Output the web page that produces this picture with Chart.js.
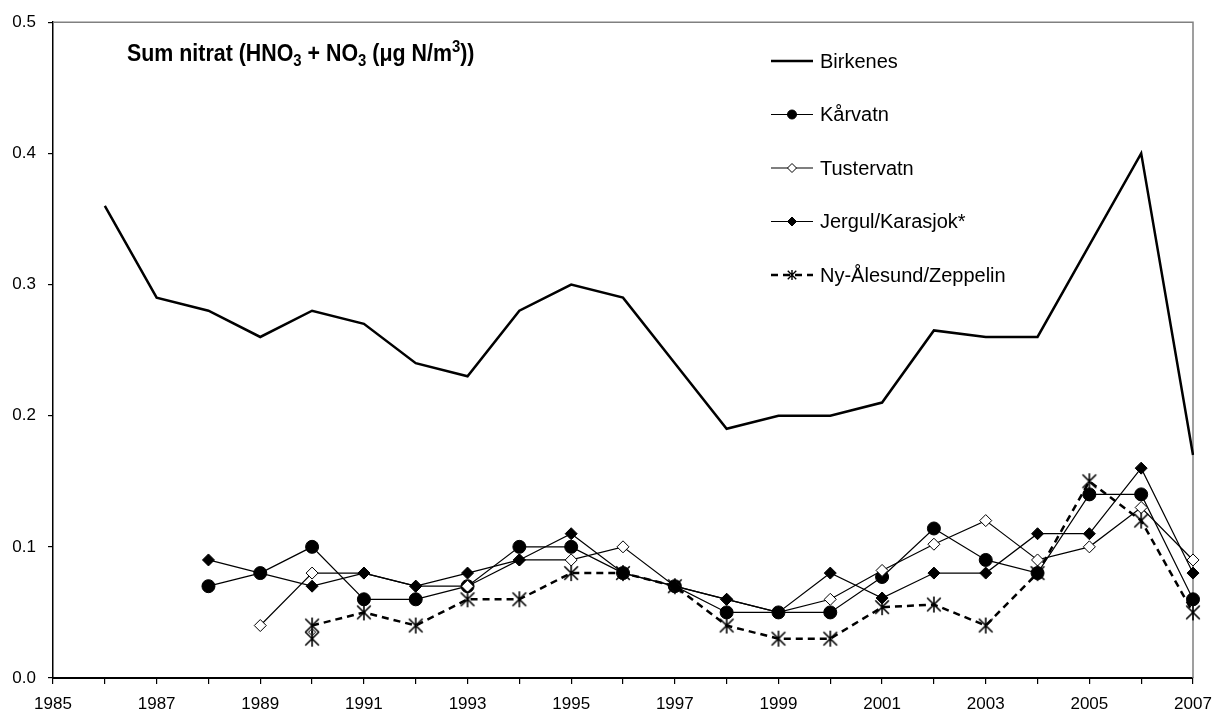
<!DOCTYPE html>
<html>
<head>
<meta charset="utf-8">
<script src="https://cdn.jsdelivr.net/npm/chart.js@4.4.1/dist/chart.umd.min.js"></script>
<style>
  html, body { margin: 0; padding: 0; background: #fff; }
  canvas { display: block; }
</style>
</head>
<body>
<canvas id="nitrat" width="1215" height="715"></canvas>
<script>
// years on the x axis
const years = [1985, 1986, 1987, 1988, 1989, 1990, 1991, 1992, 1993, 1994, 1995, 1996,
               1997, 1998, 1999, 2000, 2001, 2002, 2003, 2004, 2005, 2006, 2007];

// values (µg N/m3)
const birkenes   = [null, 0.36, 0.29, 0.28, 0.26, 0.28, 0.27, 0.24, 0.23, 0.28, 0.30, 0.29,
                    0.24, 0.19, 0.20, 0.20, 0.21, 0.265, 0.26, 0.26, 0.33, 0.40, 0.17];
const kaarvatn   = [null, null, null, 0.07, 0.08, 0.10, 0.06, 0.06, 0.07, 0.10, 0.10, 0.08,
                    0.07, 0.05, 0.05, 0.05, 0.077, 0.114, 0.09, 0.08, 0.14, 0.14, 0.06];
const tustervatn = [null, null, null, null, 0.04, 0.08, 0.08, 0.07, 0.07, 0.09, 0.09, 0.10,
                    0.07, 0.06, 0.05, 0.06, 0.082, 0.102, 0.12, 0.09, 0.10, 0.13, 0.09];
const jergul     = [null, null, null, 0.09, 0.08, 0.07, 0.08, 0.07, 0.08, 0.09, 0.11, 0.08,
                    0.07, 0.06, 0.05, 0.08, 0.061, 0.08, 0.08, 0.11, 0.11, 0.16, 0.08];
const nyAlesund  = [null, null, null, null, null, 0.04, 0.05, 0.04, 0.06, 0.06, 0.08, 0.08,
                    0.07, 0.04, 0.03, 0.03, 0.054, 0.056, 0.04, 0.08, 0.15, 0.12, 0.05];
// the two lone markers at 1990
const zeppelinExtra = [null, null, null, null, null, 0.03, null, null, null, null, null, null,
                       null, null, null, null, null, null, null, null, null, null, null];
const diamondExtra  = [null, null, null, null, null, 0.035, null, null, null, null, null, null,
                       null, null, null, null, null, null, null, null, null, null, null];

const yTicks = [0, 0.1, 0.2, 0.3, 0.4, 0.5];

const FONT = "'Liberation Sans', Arial, sans-serif";

// Excel style star: an X with a vertical bar
function makeStar(r, lw) {
    const c = document.createElement("canvas");
    c.width = c.height = 2 * r + 4;
    const g = c.getContext("2d");
    const m = r + 2;
    const d = r * 0.85;
    g.strokeStyle = "#000";
    g.lineWidth = lw;
    g.beginPath();
    g.moveTo(m - d, m - d); g.lineTo(m + d, m + d);
    g.moveTo(m + d, m - d); g.lineTo(m - d, m + d);
    g.moveTo(m, m - r); g.lineTo(m, m + r);
    g.stroke();
    return c;
}
const starBig = makeStar(8, 1.6);
const starSmall = makeStar(5, 1.4);

// title with sub/superscripts
const titlePlugin = {
    id: "titleText",
    afterDraw(chart) {
        const ctx = chart.ctx;
        const parts = [
            ["Sum nitrat (HNO", 0], ["3", 1], [" + NO", 0], ["3", 1],
            [" (\u03BCg N/m", 0], ["3", -1], ["))", 0]
        ];
        let x = 0;
        const base = 61;
        ctx.save();
        ctx.translate(127, 0);
        ctx.scale(0.93, 1);   // the original type is a bit narrower
        ctx.fillStyle = "#000";
        ctx.textBaseline = "alphabetic";
        ctx.textAlign = "left";
        parts.forEach(([txt, kind]) => {
            if (kind === 0) {
                ctx.font = "bold 23px " + FONT;
                ctx.fillText(txt, x, base);
            } else {
                ctx.font = "bold 16px " + FONT;
                ctx.fillText(txt, x, kind === 1 ? base + 5 : base - 9);
            }
            x += ctx.measureText(txt).width;
        });
        ctx.restore();
    }
};

// legend with a short line and a marker, like Excel
const legendPlugin = {
    id: "lineLegend",
    afterDraw(chart) {
        const ctx = chart.ctx;
        const items = chart.data.datasets.filter(ds => ds.inLegend);
        ctx.save();
        items.forEach((ds, i) => {
            const y = 61 + i * 53.5;
            ctx.strokeStyle = "#000";
            ctx.lineWidth = ds.borderWidth;
            ctx.setLineDash(ds.borderDash || []);
            ctx.beginPath();
            ctx.moveTo(771, y);
            ctx.lineTo(813, y);
            ctx.stroke();
            ctx.setLineDash([]);
            if (ds.pointRadius > 0) {
                ctx.fillStyle = ds.pointBackgroundColor;
                ctx.strokeStyle = "#000";
                ctx.lineWidth = 1;
                if (ds.pointStyle === starBig) {
                    ctx.drawImage(starSmall, 792 - starSmall.width / 2, y - starSmall.height / 2);
                } else {
                    ctx.beginPath();
                    if (ds.pointStyle === "circle") {
                        ctx.arc(792, y, 4.5, 0, Math.PI * 2);
                    } else {
                        ctx.moveTo(792, y - 4.5);
                        ctx.lineTo(796.5, y);
                        ctx.lineTo(792, y + 4.5);
                        ctx.lineTo(787.5, y);
                        ctx.closePath();
                    }
                    ctx.fill();
                    ctx.stroke();
                }
            }
            ctx.fillStyle = "#000";
            ctx.font = "20px " + FONT;
            ctx.textBaseline = "middle";
            ctx.textAlign = "left";
            ctx.fillText(ds.label, 820, y + 1);
        });
        ctx.restore();
    }
};

// grey frame on top and right of plot area
const framePlugin = {
    id: "frame",
    beforeDatasetsDraw(chart) {
        const a = chart.chartArea;
        const ctx = chart.ctx;
        ctx.save();
        ctx.strokeStyle = "#808080";
        ctx.lineWidth = 1.5;
        ctx.beginPath();
        ctx.moveTo(a.left, a.top);
        ctx.lineTo(a.right, a.top);
        ctx.lineTo(a.right, a.bottom);
        ctx.stroke();
        ctx.restore();
    }
};

const ctx = document.getElementById("nitrat").getContext("2d");
new Chart(ctx, {
    type: "line",
    data: {
        labels: years,
        datasets: [
            {
                label: "Birkenes", data: birkenes, inLegend: true, order: 6,
                borderColor: "#000", borderWidth: 2.5, pointRadius: 0
            },
            {
                label: "Kårvatn", data: kaarvatn, inLegend: true, order: 5,
                borderColor: "#000", borderWidth: 1.2,
                pointStyle: "circle", pointRadius: 6.5,
                pointBackgroundColor: "#000", pointBorderColor: "#000", pointBorderWidth: 1
            },
            {
                label: "Tustervatn", data: tustervatn, inLegend: true, order: 4,
                borderColor: "#000", borderWidth: 1.2,
                pointStyle: "rectRot", pointRadius: 6,
                pointBackgroundColor: "#fff", pointBorderColor: "#000", pointBorderWidth: 1
            },
            {
                label: "Jergul/Karasjok*", data: jergul, inLegend: true, order: 3,
                borderColor: "#000", borderWidth: 1.2,
                pointStyle: "rectRot", pointRadius: 6,
                pointBackgroundColor: "#000", pointBorderColor: "#000", pointBorderWidth: 1
            },
            {
                label: "Ny-Ålesund/Zeppelin", data: nyAlesund, inLegend: true, order: 1,
                borderColor: "#000", borderWidth: 2.5, borderDash: [7, 5],
                pointStyle: starBig, pointRadius: 8,
                pointBackgroundColor: "#000", pointBorderColor: "#000"
            },
            {
                label: "extra star", data: zeppelinExtra, order: 2,
                showLine: false, pointStyle: starBig, pointRadius: 8
            },
            {
                label: "extra diamond", data: diamondExtra, order: 2,
                showLine: false, pointStyle: "rectRot", pointRadius: 3.5,
                pointBackgroundColor: "#fff", pointBorderColor: "#000", pointBorderWidth: 1
            }
        ]
    },
    options: {
        responsive: false,
        animation: false,
        devicePixelRatio: 1,
        layout: { padding: { top: 20, right: 22, left: 0, bottom: 0 } },
        plugins: {
            legend: { display: false },
            tooltip: { enabled: false }
        },
        scales: {
            x: {
                type: "category",
                offset: false,
                afterFit: (scale) => {
                    scale.height = 37;
                    scale.paddingLeft = 0;
                    scale.paddingRight = 0;
                },
                grid: {
                    display: true, drawOnChartArea: false, drawTicks: true,
                    tickLength: 6, color: "#000", lineWidth: 1.2
                },
                border: { display: true, color: "#000", width: 2 },
                ticks: {
                    autoSkip: false, maxRotation: 0, padding: 10,
                    color: "#000", font: { family: FONT, size: 17 },
                    callback: function (val, i) {
                        const y = years[i];
                        return y % 2 === 1 ? String(y) : "";
                    }
                }
            },
            y: {
                min: 0, max: 0.5,
                afterFit: (scale) => { scale.width = 53; },
                afterBuildTicks: (scale) => { scale.ticks = yTicks.map(v => ({ value: v })); },
                grid: {
                    display: true, drawOnChartArea: false, drawTicks: true,
                    tickLength: 5, color: "#000", lineWidth: 1.2
                },
                border: { display: true, color: "#000", width: 1.5 },
                ticks: {
                    padding: 12, color: "#000", font: { family: FONT, size: 17 },
                    callback: (v) => Number(v).toFixed(1)
                }
            }
        }
    },
    plugins: [framePlugin, titlePlugin, legendPlugin]
});
</script>
</body>
</html>
